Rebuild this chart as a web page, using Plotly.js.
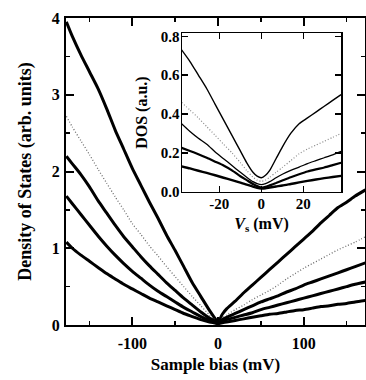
<!DOCTYPE html>
<html>
<head>
<meta charset="utf-8">
<script src="https://cdn.plot.ly/plotly-3.0.1.min.js"></script>
<style>html,body{margin:0;padding:0;background:#fff;}#chart{width:366px;height:380px;}</style>
</head>
<body>
<div id="chart"></div>
<script>
// Main panel: sample bias (mV)
var biasMain = [-177,-170,-160,-150,-140,-130,-120,-110,-100,-90,-80,-70,-60,-50,-40,-30,-20,-10,-5,0,5,10,20,30,40,50,60,70,80,90,100,110,120,130,140,150,160,172];
var dos1 = [3.95,3.76,3.52,3.30,3.08,2.82,2.54,2.29,2.04,1.82,1.60,1.39,1.17,0.97,0.76,0.55,0.37,0.19,0.11,0.04,0.14,0.21,0.31,0.42,0.52,0.62,0.72,0.82,0.92,1.02,1.12,1.22,1.33,1.43,1.53,1.60,1.68,1.76];
var dos2 = [2.72,2.58,2.40,2.22,2.03,1.85,1.67,1.50,1.32,1.18,1.03,0.90,0.76,0.63,0.50,0.37,0.25,0.13,0.08,0.04,0.09,0.13,0.20,0.26,0.33,0.39,0.45,0.52,0.60,0.67,0.74,0.80,0.86,0.92,0.98,1.03,1.08,1.15];
var dos3 = [2.20,2.10,1.96,1.80,1.62,1.46,1.30,1.15,1.02,0.89,0.77,0.66,0.55,0.45,0.35,0.26,0.17,0.09,0.06,0.03,0.07,0.10,0.15,0.20,0.25,0.30,0.34,0.38,0.43,0.47,0.52,0.56,0.60,0.64,0.68,0.72,0.76,0.81];
var dos4 = [1.68,1.58,1.44,1.30,1.16,1.03,0.91,0.80,0.70,0.61,0.52,0.44,0.37,0.30,0.23,0.17,0.11,0.06,0.04,0.02,0.05,0.07,0.10,0.13,0.16,0.20,0.23,0.26,0.29,0.32,0.35,0.38,0.41,0.44,0.47,0.50,0.53,0.56];
var dos5 = [1.08,1.00,0.91,0.83,0.75,0.67,0.60,0.53,0.47,0.41,0.35,0.30,0.25,0.20,0.15,0.11,0.07,0.04,0.03,0.02,0.03,0.04,0.06,0.08,0.10,0.12,0.14,0.15,0.17,0.19,0.20,0.22,0.24,0.25,0.27,0.28,0.30,0.32];

// Inset: Vs (mV)
var biasInset = [-38,-34,-30,-26,-22,-18,-14,-10,-7,-4,-2,0,2,4,7,10,14,18,22,26,30,34,38];
var insA = [0.73,0.67,0.60,0.53,0.45,0.37,0.29,0.21,0.15,0.10,0.08,0.072,0.085,0.11,0.17,0.23,0.30,0.35,0.38,0.41,0.44,0.47,0.50];
var insB = [0.46,0.42,0.38,0.335,0.29,0.245,0.20,0.15,0.11,0.075,0.06,0.054,0.06,0.075,0.10,0.125,0.16,0.195,0.22,0.24,0.26,0.28,0.30];
var insC = [0.35,0.31,0.275,0.245,0.205,0.17,0.135,0.10,0.075,0.052,0.042,0.037,0.042,0.052,0.072,0.09,0.11,0.127,0.145,0.16,0.175,0.19,0.208];
var insD = [0.226,0.21,0.193,0.175,0.155,0.135,0.11,0.08,0.06,0.04,0.029,0.022,0.025,0.033,0.045,0.058,0.075,0.09,0.104,0.115,0.125,0.137,0.149];
var insE = [0.131,0.12,0.108,0.097,0.085,0.072,0.06,0.047,0.037,0.026,0.02,0.017,0.018,0.022,0.027,0.032,0.04,0.048,0.056,0.063,0.07,0.076,0.082];

// Tick labels
var mainXTicks = [-100,0,100];
var mainXText = ['-100','0','100'];
var mainYTicks = [0,1,2,3,4];
var mainYText = ['0','1','2','3','4'];
var insXTicks = [-20,0,20];
var insXText = ['-20','0','20'];
var insYTicks = [0,0.2,0.4,0.6,0.8];
var insYText = ['0.0','0.2','0.4','0.6','0.8'];

var FONT = 'Liberation Serif, Times New Roman, serif';
function tr(x, y, xa, ya, color, width, dash) {
  return {x: x, y: y, xaxis: xa, yaxis: ya, type: 'scatter', mode: 'lines',
    line: {color: color, width: width, dash: dash || 'solid', shape: 'spline', smoothing: 0.6},
    hoverinfo: 'skip', showlegend: false};
}
var data = [
  tr(biasMain, dos1, 'x', 'y', '#000', 3),
  tr(biasMain, dos2, 'x', 'y', '#6e6e6e', 1.3, '1px,2px'),
  tr(biasMain, dos3, 'x', 'y', '#000', 3),
  tr(biasMain, dos4, 'x', 'y', '#000', 3),
  tr(biasMain, dos5, 'x', 'y', '#000', 3),
  tr(biasInset, insA, 'x2', 'y2', '#000', 1.4),
  tr(biasInset, insB, 'x2', 'y2', '#8a8a8a', 1.2, '1px,2px'),
  tr(biasInset, insC, 'x2', 'y2', '#000', 1.3),
  tr(biasInset, insD, 'x2', 'y2', '#000', 2.2),
  tr(biasInset, insE, 'x2', 'y2', '#000', 2.4)
];

var tickF = {family: FONT, size: 16, color: '#000', weight: 'bold'};
var insTickF = {family: FONT, size: 15, color: '#000', weight: 'bold'};
var layout = {
  width: 366, height: 380,
  margin: {l: 66, r: 1, t: 18, b: 55},
  paper_bgcolor: '#fff', plot_bgcolor: 'rgba(0,0,0,0)',
  showlegend: false,
  xaxis: {
    domain: [0, 1], range: [-177.4, 171.5], showgrid: false, zeroline: false,
    showline: true, linecolor: '#000', linewidth: 2, mirror: 'allticks',
    ticks: 'inside', ticklen: 8, tickwidth: 2, tickcolor: '#000',
    tickmode: 'array', tickvals: mainXTicks, ticktext: mainXText, ticklabelstandoff: 3,
    minor: {tickmode: 'linear', tick0: 0, dtick: 50, ticks: 'inside', ticklen: 4, tickwidth: 1.5, tickcolor: '#000', showgrid: false},
    tickfont: tickF,
    title: {text: 'Sample bias (mV)', font: {family: FONT, size: 17, color: '#000', weight: 'bold'}, standoff: 7}
  },
  yaxis: {
    domain: [0, 1], range: [0, 4], showgrid: false, zeroline: false,
    showline: true, linecolor: '#000', linewidth: 2, mirror: 'allticks',
    ticks: 'inside', ticklen: 8, tickwidth: 2, tickcolor: '#000',
    tickmode: 'array', tickvals: mainYTicks, ticktext: mainYText, ticklabelstandoff: 1,
    minor: {tickmode: 'linear', tick0: 0, dtick: 0.5, ticks: 'inside', ticklen: 4, tickwidth: 1.5, tickcolor: '#000', showgrid: false},
    tickfont: tickF,
    title: {text: 'Density of States (arb. units)', font: {family: FONT, size: 18, color: '#000', weight: 'bold'}, standoff: 15}
  },
  xaxis2: {
    domain: [0.388, 0.920], anchor: 'y2', range: [-37.8, 38], showgrid: false, zeroline: false,
    showline: true, linecolor: '#000', linewidth: 1.5, mirror: 'allticks',
    ticks: 'inside', ticklen: 6, tickwidth: 1.5, tickcolor: '#000',
    tickmode: 'array', tickvals: insXTicks, ticktext: insXText, ticklabelstandoff: -2,
    tickfont: insTickF,
    title: {text: '<i>V</i><sub>s</sub> (mV)', font: {family: FONT, size: 16, color: '#000', weight: 'bold'}, standoff: 6}
  },
  yaxis2: {
    domain: [0.434, 0.950], anchor: 'x2', range: [0, 0.815], showgrid: false, zeroline: false,
    showline: true, linecolor: '#000', linewidth: 1.5, mirror: 'allticks',
    ticks: 'inside', ticklen: 6, tickwidth: 1.5, tickcolor: '#000',
    tickmode: 'array', tickvals: insYTicks, ticktext: insYText, ticklabelstandoff: -2,
    tickfont: insTickF,
    title: {text: 'DOS (a.u.)', font: {family: FONT, size: 16, color: '#000', weight: 'bold'}, standoff: 9}
  }
};
Plotly.newPlot('chart', data, layout, {staticPlot: true, displayModeBar: false});
</script>
</body>
</html>
